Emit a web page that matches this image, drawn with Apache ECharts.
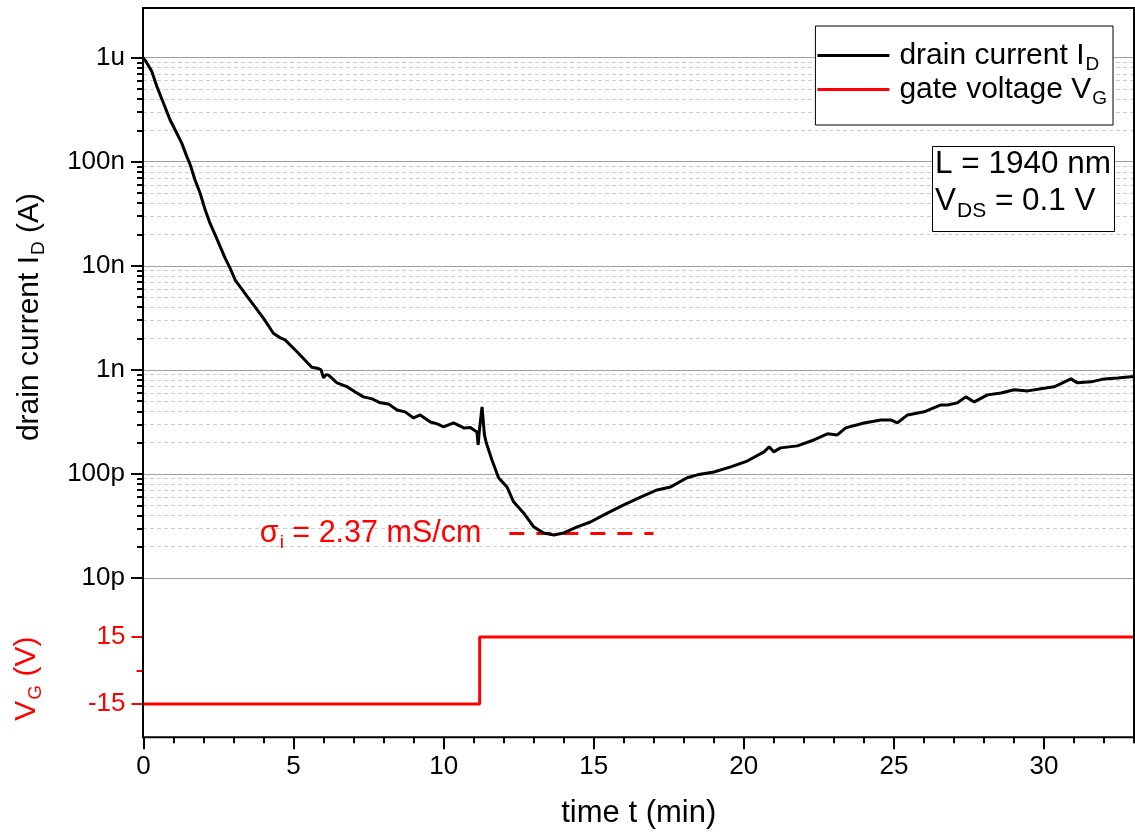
<!DOCTYPE html>
<html><head><meta charset="utf-8">
<script src="https://cdn.jsdelivr.net/npm/echarts@6/dist/echarts.min.js"></script>
<style>html,body{margin:0;padding:0;background:#fff}#c{width:1135px;height:832px}</style>
</head><body><div id="c"></div>
<script>
// ---- data ----
const timeMin = [0.00,0.10,0.29,0.46,0.68,0.90,1.01,1.29,1.46,1.57,1.73,1.90,2.07,2.23,2.40,2.57,2.73,2.90,3.07,3.23,3.51,
  4.01,4.34,4.57,4.73,5.12,5.62,5.84,5.93,6.01,6.10,6.18,6.46,6.79,7.07,7.34,7.63,7.90,8.17,8.46,8.73,9.01,9.23,9.57,9.80,
  10.01,10.34,10.68,10.90,11.12,11.16,11.20,11.29,11.37,11.43,11.62,11.84,12.12,12.34,12.68,13.01,13.34,13.68,14.01,14.46,
  14.90,15.46,16.01,16.57,17.12,17.57,18.12,18.46,19.01,19.57,20.12,20.68,20.85,21.00,21.23,21.79,22.34,22.79,23.12,23.40,
  24.01,24.57,24.90,25.12,25.46,26.01,26.57,26.79,27.12,27.40,27.68,28.12,28.57,29.01,29.46,29.90,30.34,30.62,30.90,31.12,
  31.57,32.01,32.46,32.90,33.00];
const drainCurrentA = [1.00e-6,9.2e-7,7.4e-7,5.3e-7,3.67e-7,2.53e-7,2.19e-7,1.51e-7,1.12e-7,9.4e-8,6.7e-8,5.0e-8,3.46e-8,2.57e-8,1.99e-8,1.53e-8,1.19e-8,9.5e-9,7.3e-9,6.3e-9,4.9e-9,
  3.14e-9,2.25e-9,2.03e-9,1.94e-9,1.5e-9,1.06e-9,1.03e-9,1.0e-9,8.4e-10,9.0e-10,8.9e-10,7.5e-10,6.9e-10,6.14e-10,5.5e-10,5.26e-10,4.82e-10,4.71e-10,4.12e-10,3.95e-10,3.45e-10,3.69e-10,3.16e-10,3.03e-10,
  2.83e-10,3.09e-10,2.77e-10,2.8e-10,2.53e-10,1.9e-10,2.6e-10,4.41e-10,2.37e-10,1.99e-10,1.36e-10,9.2e-11,7.5e-11,5.4e-11,4.2e-11,3.1e-11,2.71e-11,2.59e-11,2.71e-11,3.1e-11,
  3.45e-11,4.2e-11,5.04e-11,6.0e-11,7.02e-11,7.5e-11,9.2e-11,9.8e-11,1.045e-10,1.17e-10,1.33e-10,1.63e-10,1.82e-10,1.63e-10,1.78e-10,1.86e-10,2.12e-10,2.43e-10,2.37e-10,2.77e-10,
  3.09e-10,3.3e-10,3.3e-10,3.09e-10,3.69e-10,3.95e-10,4.6e-10,4.6e-10,4.82e-10,5.5e-10,4.92e-10,5.75e-10,6.0e-10,6.43e-10,6.28e-10,6.57e-10,6.87e-10,7.5e-10,8.19e-10,7.5e-10,
  7.67e-10,8.19e-10,8.37e-10,8.57e-10,8.57e-10];
const gateTimeMin = [0, 11.2, 11.2, 33];
const gateVoltageV = [-15, -15, 15, 15];
const sigmaLineTimeMin = [12.2, 17.0];
const sigmaLineCurrentA = [2.67e-11, 2.67e-11];
const sigmaText = ['σ', 'i', ' = 2.37 mS/cm'];
const seriesNames = ['drain current I_D', 'gate voltage V_G'];
const paramLines = [['L = 1940 nm'], ['V', 'DS', ' = 0.1 V']];

const yTickValues = [1e-11, 1e-10, 1e-9, 1e-8, 1e-7, 1e-6];
const yTickLabels = ['10p', '100p', '1n', '10n', '100n', '1u'];
const xTickValues = [0, 5, 10, 15, 20, 25, 30];
const xMinorTicks = [1,2,3,4,6,7,8,9,11,12,13,14,16,17,18,19,21,22,23,24,26,27,28,29,31,32,33];
const vgTickValues = [-15, 15];
const vgMinorTicks = [0];
const yMinorTicks = [];
for (let d = -11; d <= -7; d++) for (let m = 2; m <= 9; m++) yMinorTicks.push(m * Math.pow(10, d));

// ---- helpers ----
const FONT = "'Liberation Sans', Arial, sans-serif";
const RED = '#ff0000';
function subRich(size, lh, subSize, drop, color) {
  return {
    a: {fontSize: size, lineHeight: lh, fontFamily: FONT, color: color},
    s: {fontSize: subSize, lineHeight: lh, fontFamily: FONT, color: color, padding: [drop, 0, 0, 1]}
  };
}
function fmtSub(name) {
  const p = name.split('_');
  return p.length > 1 ? '{a|' + p[0] + '}{s|' + p[1] + '}' : '{a|' + name + '}';
}
function zip(a, b) { return a.map((v, i) => [v, b[i]]); }

const chart = echarts.init(document.getElementById('c'), null, {renderer: 'canvas'});
const option = {
  animation: false,
  backgroundColor: '#fff',
  textStyle: {fontFamily: FONT},
  grid: [
    {left: 143, right: 1, top: 8, height: 570},
    {left: 143, right: 1, top: 578, height: 159.3},
    {left: 143, right: 1, top: 8, height: 729.3, show: true, borderColor: '#000', borderWidth: 2, backgroundColor: 'transparent', z: 5}
  ],
  xAxis: [
    {gridIndex: 0, type: 'value', min: 0, max: 33, show: false},
    {gridIndex: 1, type: 'value', min: 0, max: 33, position: 'bottom',
      axisLine: {show: false, onZero: false},
      axisTick: {show: true, inside: false, length: 12, customValues: xTickValues, lineStyle: {color: '#000', width: 2}},
      axisLabel: {show: true, customValues: xTickValues, fontSize: 26, color: '#000', margin: 17, fontFamily: FONT},
      splitLine: {show: false},
      name: 'time t (min)', nameLocation: 'middle', nameGap: 61,
      nameTextStyle: {fontSize: 31, color: '#000', fontFamily: FONT}},
    {gridIndex: 1, type: 'value', min: 0, max: 33, position: 'bottom',
      axisLine: {show: false, onZero: false},
      axisTick: {show: true, inside: false, length: 6, customValues: xMinorTicks, lineStyle: {color: '#000', width: 2}},
      axisLabel: {show: false}, splitLine: {show: false}}
  ],
  yAxis: [
    {gridIndex: 0, type: 'log', logBase: 10, min: 1e-11, max: 3e-6, position: 'left',
      axisLine: {show: false, onZero: false},
      axisTick: {show: true, inside: false, length: 12, customValues: yTickValues, lineStyle: {color: '#000', width: 2}},
      axisLabel: {show: true, customValues: yTickValues, fontSize: 26, color: '#000', margin: 18, fontFamily: FONT,
        formatter: v => { let best = 0; yTickValues.forEach((t, i) => { if (Math.abs(Math.log10(t) - Math.log10(v)) < Math.abs(Math.log10(yTickValues[best]) - Math.log10(v))) best = i; }); return yTickLabels[best]; }},
      splitLine: {show: true, lineStyle: {color: '#a0a0a0', width: 1.2}},
      name: '{a|drain current I}{s|D}{a| (A)}', nameLocation: 'middle', nameRotate: 90, nameGap: 96,
      nameTextStyle: {padding: [0, 48, 0, 0], rich: subRich(30, 34, 19, 18, '#000')}},
    {gridIndex: 0, type: 'log', logBase: 10, min: 1e-11, max: 3e-6, position: 'left',
      axisLine: {show: false, onZero: false},
      axisTick: {show: true, inside: false, length: 6, customValues: yMinorTicks, lineStyle: {color: '#000', width: 2}},
      axisLabel: {show: false},
      splitLine: {show: true, lineStyle: {color: '#cccccc', width: 1, type: [4, 3]}}},
    {gridIndex: 1, type: 'value', min: -30, max: 41.5, position: 'left',
      axisLine: {show: false, onZero: false},
      axisTick: {show: true, inside: false, length: 12, customValues: vgTickValues, lineStyle: {color: RED, width: 2}},
      axisLabel: {show: true, customValues: vgTickValues, fontSize: 26, color: RED, margin: 18, fontFamily: FONT},
      splitLine: {show: false},
      name: '{a|V}{s|G}{a| (V)}', nameLocation: 'middle', nameRotate: 90, nameGap: 100,
      nameTextStyle: {padding: [0, 42, 0, 0], rich: subRich(30, 34, 19, 18, RED)}},
    {gridIndex: 1, type: 'value', min: -30, max: 41.5, position: 'left',
      axisLine: {show: false, onZero: false},
      axisTick: {show: true, inside: false, length: 7, customValues: vgMinorTicks, lineStyle: {color: RED, width: 2}},
      axisLabel: {show: false}, splitLine: {show: false}}
  ],
  legend: {
    data: seriesNames, orient: 'vertical', right: 22, top: 26,
    icon: 'rect', itemWidth: 72, itemHeight: 3, itemGap: -3,
    padding: [11, 6, 17, 2], backgroundColor: '#fff', borderColor: '#000', borderWidth: 1, borderRadius: 0,
    formatter: fmtSub,
    textStyle: {color: '#000', fontSize: 30, padding: [0, 0, 0, 5], rich: subRich(30, 33, 19, 18, '#000')}
  },
  title: {
    text: paramLines.map(l => l.length > 1 ? '{a|' + l[0] + '}{s|' + l[1] + '}{a|' + l[2] + '}' : '{a|' + l[0] + '}').join('\n'),
    right: 20, top: 144, padding: [2, 4, 10, 3],
    backgroundColor: '#fff', borderColor: '#000', borderWidth: 1,
    textStyle: {fontSize: 31.5, color: '#000', fontWeight: 'normal', rich: subRich(31.5, 37, 21, 20, '#000')}
  },
  series: [
    {name: seriesNames[0], type: 'line', xAxisIndex: 0, yAxisIndex: 0, data: zip(timeMin, drainCurrentA),
      symbol: 'none', color: '#000', lineStyle: {color: '#000', width: 3}, itemStyle: {color: '#000'}, z: 4},
    {name: seriesNames[1], type: 'line', xAxisIndex: 1, yAxisIndex: 2, data: zip(gateTimeMin, gateVoltageV),
      symbol: 'none', color: RED, lineStyle: {color: RED, width: 3}, itemStyle: {color: RED}, z: 4},
    {name: 'sigma', type: 'line', xAxisIndex: 0, yAxisIndex: 0, data: zip(sigmaLineTimeMin, sigmaLineCurrentA),
      symbol: 'none', lineStyle: {color: RED, width: 3, type: [15, 12]}, z: 3,
      markPoint: {symbol: 'circle', symbolSize: 0, silent: true,
        data: [{coord: [sigmaLineTimeMin[0], sigmaLineCurrentA[0]]}],
        label: {show: true, position: 'left', distance: 28,
          formatter: '{a|' + sigmaText[0] + '}{s|' + sigmaText[1] + '}{a|' + sigmaText[2] + '}',
          rich: subRich(30.5, 34, 19, 18, RED)}}}
  ]
};
chart.setOption(option);
</script></body></html>
